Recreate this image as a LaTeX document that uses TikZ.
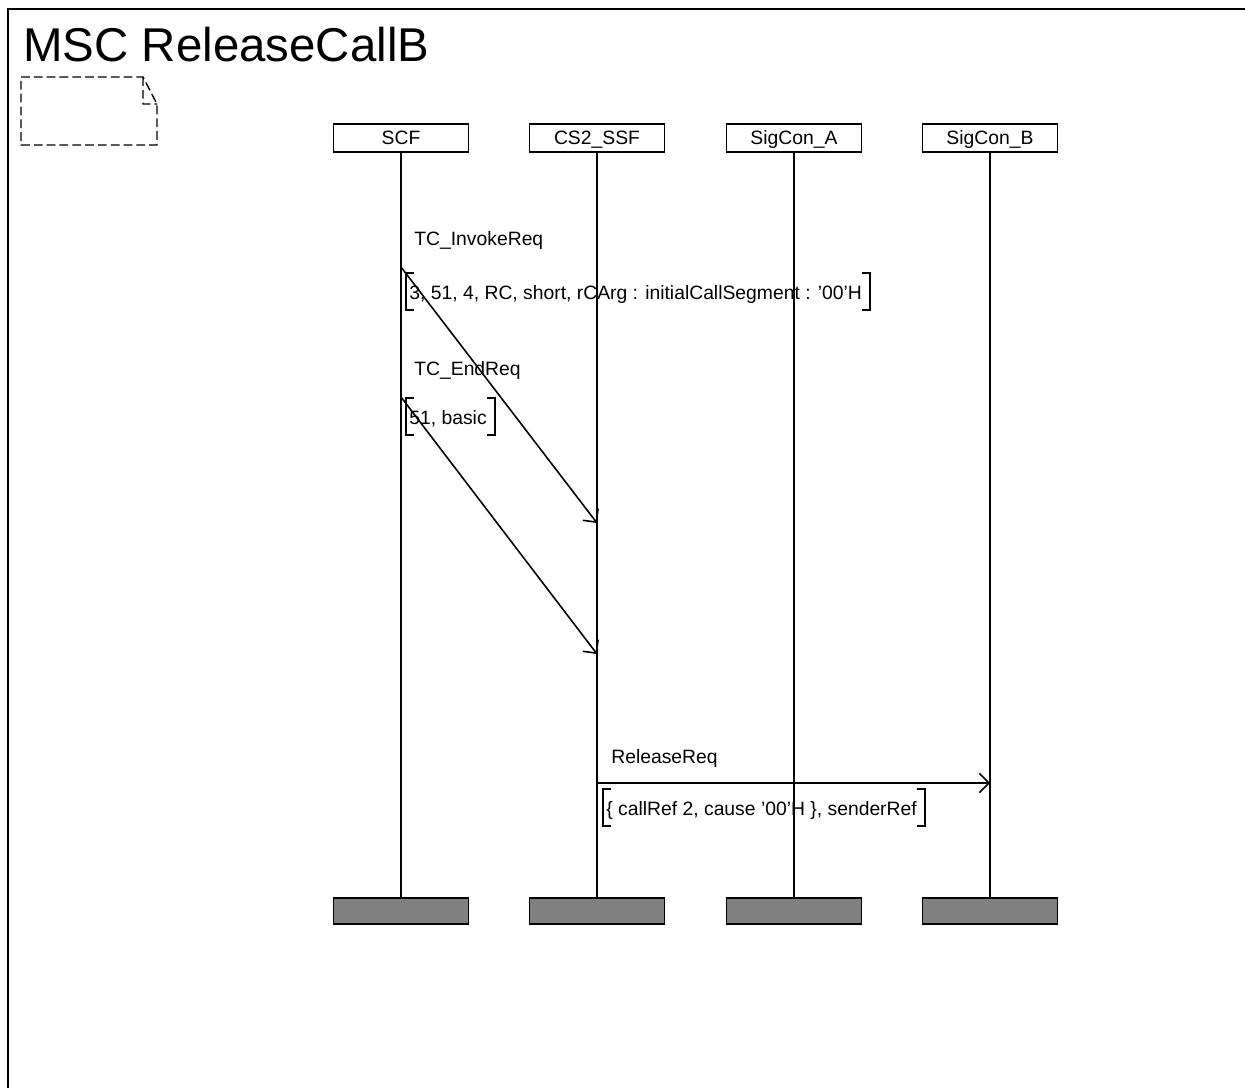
\documentclass[tikz,border=0pt]{standalone}
\usepackage{fontspec}
\setmainfont{Liberation Sans}
\usetikzlibrary{arrows.meta}

\begin{document}
\begin{tikzpicture}[x=0.02cm, y=-0.02cm,
    every node/.style={font=\fontsize{11}{13}\selectfont},
    head/.style={draw, line width=0.9pt, minimum width=2.7cm, minimum height=0.56cm, inner sep=0pt, text height=7.8pt, text depth=0pt},
    tail/.style={draw, line width=0.9pt, fill=black!50, minimum width=2.7cm, minimum height=0.52cm, inner sep=0pt},
    life/.style={line width=0.04cm},
    msg/.style={line width=0.9pt, -{Straight Barb[length=5.5pt, width=11pt]}},
    msgname/.style={anchor=base west, inner sep=0pt},
    param/.style={anchor=base west, inner xsep=0.06cm, inner ysep=0pt, text height=0.52cm, text depth=0.22cm, execute at end node=\hspace{0.09cm}}]

			\useasboundingbox (0,0) rectangle (1245,1088);
			\clip (0,0) rectangle (1245,1088);

			% Frame, title and the empty comment symbol
			\draw[line width=1.1pt] (8,9) rectangle (1300,1150);
			\node[msgname, font=\fontsize{27}{32}\selectfont] (title) at (23,62) {MSC ReleaseCallB};
			\draw[line width=0.8pt, dash pattern=on 5pt off 2.3pt]
				(21,77) -- (143,77) -- (157,104) -- (157,145) -- (21,145) -- cycle
				(143,77) -- (143,104) -- (157,104);

			% Draw each instance with its head, its end box and the line between
			\foreach \id/\name/\x in {
					scf/SCF/401,
					ssf/CS2\_SSF/597,
					sigA/SigCon\_A/794,
					sigB/SigCon\_B/990
				} {
					\node[head] (\id) at (\x,138) {\name};
					\node[tail] (\id End) at (\x,911) {};
					\draw[life] (\id.south) -- (\id End.north);
				}

			% Message ends on the lines
			\coordinate (invS) at (401,267);
			\coordinate (invE) at (597,523);
			\coordinate (endS) at (401,397);
			\coordinate (endE) at (597,654);
			\coordinate (relS) at (597,783);
			\coordinate (relE) at (990,783);

			% Add message names and parameters
			\node[msgname] (invN) at (414,245) {TC\_InvokeReq};
			\node[param] (invP) at (406,299) {3, 51, 4, RC, short, rCArg : initialCallSegment : '00'H};
			\node[msgname] (endN) at (414,375) {TC\_EndReq};
			\node[param] (endP) at (406,424) {51, basic};
			\node[msgname] (relN) at (611,763) {ReleaseReq};
			\node[param] (relP) at (603,815) {\{ callRef 2, cause '00'H \}, senderRef};

			\foreach \p in {invP, endP, relP} {
					\draw[life] ([xshift=0.16cm]\p.north west) -| (\p.south west) -- ++(8,0);
					\draw[life] ([xshift=-0.16cm]\p.north east) -| (\p.south east) -- ++(-8,0);
				}

			% Draw the messages
			\draw[msg] (invS) -- (invE);
			\draw[msg] (endS) -- (endE);
			\draw[msg] (relS) -- (relE);

		\end{tikzpicture}
\end{document}
